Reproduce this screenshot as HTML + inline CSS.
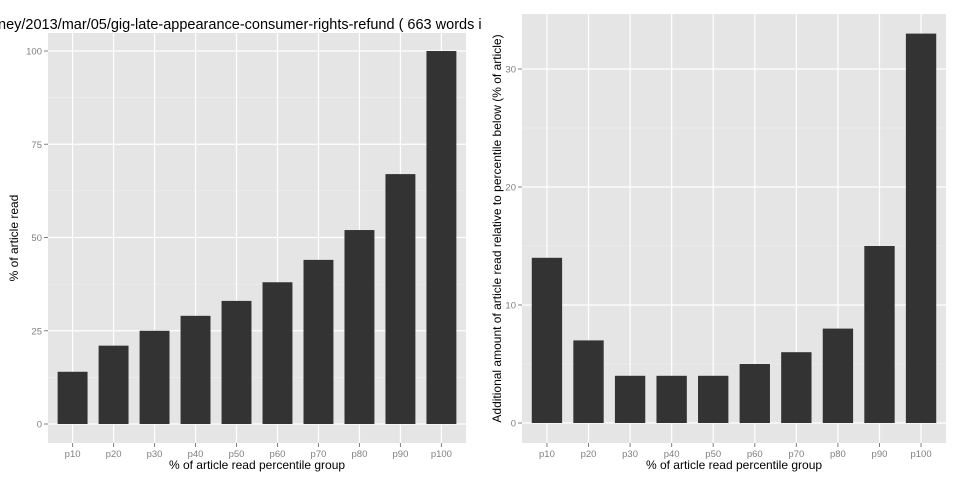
<!DOCTYPE html>
<html><head><meta charset="utf-8"><style>
body{margin:0;background:#fff;width:960px;height:480px;overflow:hidden;font-family:"Liberation Sans",sans-serif}
</style></head><body>
<svg width="960" height="480" style="font-family:'Liberation Sans',sans-serif">
<text x="-2" y="29" font-size="14.5" fill="#000">ney/2013/mar/05/gig-late-appearance-consumer-rights-refund ( 663 words i</text>
<g id="left"></g><g id="right"></g>
</svg>
<script>
const categories=["p10","p20","p30","p40","p50","p60","p70","p80","p90","p100"];
const leftValues=[14,21,25,29,33,38,44,52,67,100];
const rightValues=[14,7,4,4,4,5,6,8,15,33];
const leftTicks=[0,25,50,75,100];
const rightTicks=[0,10,20,30];
const NS="http://www.w3.org/2000/svg";
function mk(p,t,a){const e=document.createElementNS(NS,t);for(const k in a)e.setAttribute(k,a[k]);p.appendChild(e);return e;}
function panel(g,x0,x1,y0,y1,zeroY,maxV,maxY,vals,ticks,ytitle,pre,titleOff){
  const sx=i=>x0+(i+0.6)*(x1-x0)/10.2;
  const sy=v=>zeroY-(zeroY-maxY)*v/maxV;
  const bg=mk(g,'rect',{x:x0,y:y0,width:x1-x0,height:y1-y0,fill:'#e5e5e5'});
  
  
  for(let i=0;i<ticks.length-1;i++){const m=(ticks[i]+ticks[i+1])/2;mk(g,'line',{x1:x0,x2:x1,y1:sy(m),y2:sy(m),stroke:'#f2f2f2','stroke-width':0.6});}
  const top=ticks[ticks.length-1]+(ticks[1]-ticks[0])/2; if(sy(top)>y0) mk(g,'line',{x1:x0,x2:x1,y1:sy(top),y2:sy(top),stroke:'#f2f2f2','stroke-width':0.6});
  ticks.forEach(t=>{const y=sy(t);mk(g,'line',{x1:x0,x2:x1,y1:y,y2:y,stroke:'#fff','stroke-width':1.2});
    mk(g,'line',{x1:x0-4,x2:x0,y1:y,y2:y,stroke:'#7f7f7f'});
    const tx=mk(g,'text',{x:x0-6,y:y+3.5,'font-size':9.5,fill:'#7f7f7f','text-anchor':'end'});tx.textContent=t;
    
    });
  categories.forEach((c,i)=>{const x=sx(i);mk(g,'line',{x1:x,x2:x,y1:y0,y2:y1,stroke:'#fff','stroke-width':1.2});
    mk(g,'line',{x1:x,x2:x,y1:y1,y2:y1+4,stroke:'#7f7f7f'});
    const tx=mk(g,'text',{x:x,y:y1+14,'font-size':9.5,fill:'#7f7f7f','text-anchor':'middle'});tx.textContent=c;
    
    });
  const bw=(x1-x0)/10.2*0.73;
  vals.forEach((v,i)=>{const r=mk(g,'rect',{x:sx(i)-bw/2,y:sy(v),width:bw,height:zeroY-sy(v),fill:'#333'});
    
    });
  const xt=mk(g,'text',{x:(x0+x1)/2,y:y1+26,'font-size':12,fill:'#000','text-anchor':'middle'});xt.textContent='% of article read percentile group';
  
  
  const yc=(y0+y1)/2, tx0=x0-titleOff;
  const yt=mk(g,'text',{x:tx0,y:yc,'font-size':12,fill:'#000','text-anchor':'middle',transform:`rotate(-90 ${tx0} ${yc})`});yt.textContent=ytitle;
  
  
}
panel(document.getElementById('left'),48,466,33,443,424,100,51,leftValues,leftTicks,'% of article read','left',30);
panel(document.getElementById('right'),522,946,14,443,423,30,69,rightValues,rightTicks,'Additional amount of article read relative to percentile below (% of article)','right',21);
</script>
</body></html>
